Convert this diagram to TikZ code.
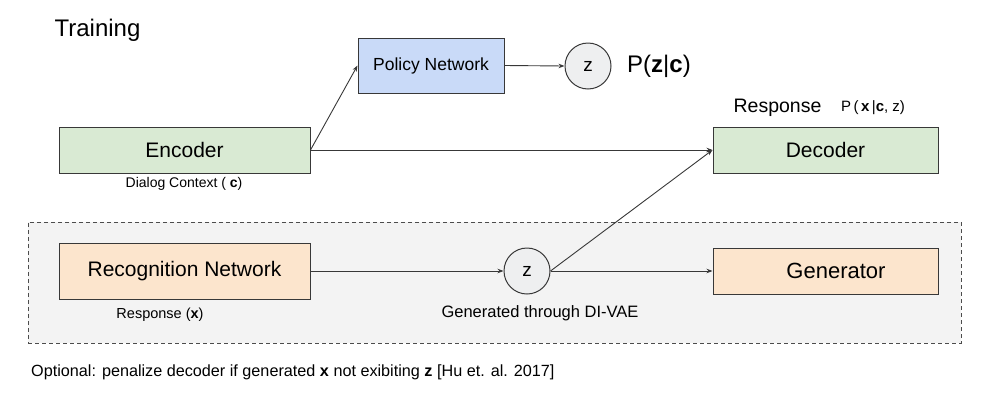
\documentclass[tikz,border=0pt]{standalone}
\usepackage{fontspec}
\setmainfont{Liberation Sans}
\usepackage{tikz}
\usetikzlibrary{arrows.meta,positioning}

\definecolor{encgreen}{HTML}{D9EAD3}
\definecolor{polblue}{HTML}{C9DAF8}
\definecolor{recorange}{HTML}{FCE5CD}
\definecolor{zgray}{HTML}{EEEFF0}
\definecolor{vaegray}{HTML}{F3F3F3}
\definecolor{edgegray}{HTML}{383838}

\newcommand{\fsz}[1]{\fontsize{#1}{#1}\selectfont}

\begin{document}
\begin{tikzpicture}[x=1pt,y=-1pt,
    box/.style={draw=edgegray,line width=1pt,inner sep=0pt,
                minimum height=46pt,font=\fsz{21}},
    zcirc/.style={circle,draw=edgegray,line width=1pt,fill=zgray,
                  inner sep=0pt,minimum size=46pt,font=\fsz{19}},
    lbl/.style={inner sep=0pt},
    arr/.style={-{Stealth[length=6pt,width=4.5pt]},edgegray,line width=0.9pt}]
    \useasboundingbox (0,0) rectangle (1000,410);

    % zone DI-VAE
    \node[draw=edgegray!90,dashed,dash pattern=on 4pt off 3pt,line width=1pt,
          fill=vaegray,minimum width=933pt,minimum height=121pt,inner sep=0pt]
          (vae) at (494.5,282.5) {};

    \node[lbl,font=\fsz{24}] (title) at (97.5,30) {Training};

    % partie haute
    \node[box,fill=encgreen,minimum width=251pt] (enc) at (184.5,150) {Encoder};
    \node[box,fill=polblue,minimum width=146pt,minimum height=55pt,font=\fsz{17.5}]
          (pol) at (431,65.5) {Policy Network};
    \node[zcirc] (zpol) at (588,66) {z};
    \node[lbl,font=\fsz{24}] (pzc) at (659,66) {P(\textbf{z}|\textbf{c})};
    \node[box,fill=encgreen,minimum width=225pt] (dec) at (825.5,150) {Decoder};
    \node[lbl,font=\fsz{14}] (ctx) at (184,184) {Dialog Context ( \textbf{c})};
    \node[lbl,font=\fsz{19.5}] (resp) at (777.5,108) {Response};
    \node[lbl,font=\fsz{15}] (pxcz) at (873,108) {P\,(\,\textbf{x}\,|\textbf{c}, z)};

    % partie basse
    \node[box,fill=recorange,minimum width=251pt,minimum height=56pt]
          (rec) at (184.5,271) {Recognition Network};
    \node[zcirc] (zrec) at (527,271) {z};
    \node[box,fill=recorange,minimum width=225pt] (gen) at (825.5,271) {};
    \node[lbl,font=\fsz{22}] (gentxt) at (836,271) {Generator};
    \node[lbl,font=\fsz{14.5}] (respx) at (160,315) {Response (\textbf{x})};
    \node[lbl,font=\fsz{16.5}] (divae) at (540,313) {Generated through DI-VAE};

    \node[lbl,anchor=west,font=\fsz{16.2}] (note) at (31,372)
          {Optional: penalize decoder if generated \textbf{x} not exibiting \textbf{z} [Hu et. al. 2017]};

    % connexions
    \draw[arr] (enc.east) -- (pol.west);
    \draw[arr] (enc.east) -- (dec.west);
    \draw[arr] (pol.east) -- (zpol.west);
    \draw[arr] (rec.east) -- (zrec.west);
    \draw[arr] (zrec.east) -- (gen.west);
    \draw[arr] (zrec.east) -- (dec.west);
\end{tikzpicture}
\end{document}
